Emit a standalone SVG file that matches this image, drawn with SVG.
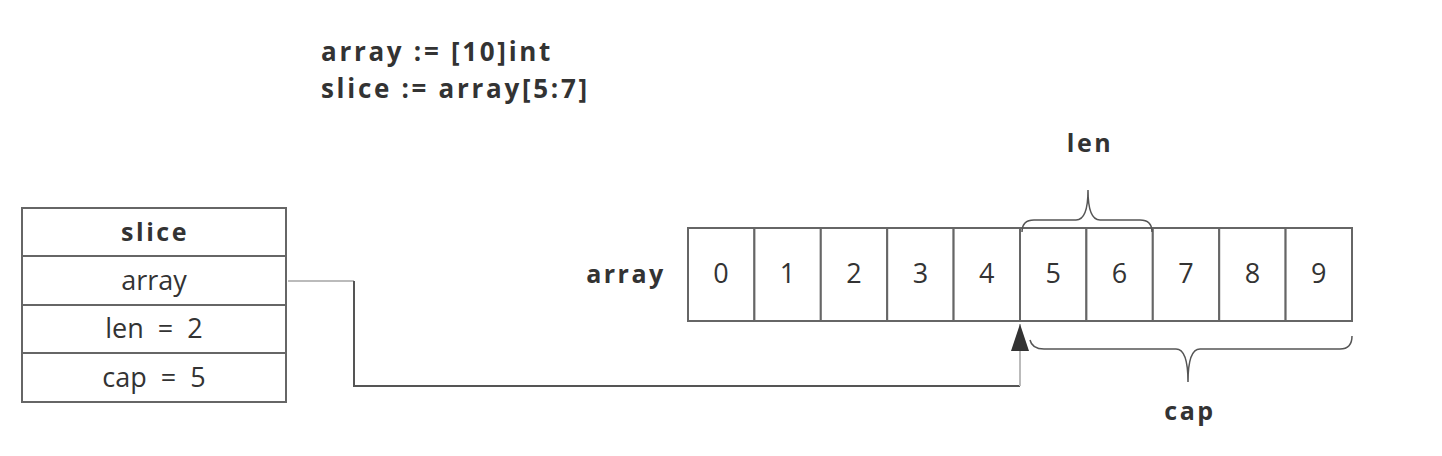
<svg xmlns="http://www.w3.org/2000/svg" width="1442" height="456" viewBox="0 0 1442 456">
<style>
.box{fill:#fff;stroke:#666;stroke-width:2}
.t{font-family:"Open Sans","Noto Sans",sans-serif;fill:#333;text-anchor:middle}
.b{font-weight:bold;letter-spacing:2.5px}
.c{font-weight:bold;letter-spacing:2.7px;font-size:26px;text-anchor:start}
.r{font-size:27px;word-spacing:7px}
.d{font-size:27px}
.br{fill:none;stroke:#555;stroke-width:1.5}
</style>
<defs>
<marker id="arr" markerWidth="28" markerHeight="18" refX="27" refY="9" orient="auto" markerUnits="userSpaceOnUse" viewBox="0 0 28 18">
<path d="M0,0 L27,9 L0,18 Z" fill="#333"/>
</marker>
</defs>
<rect width="1442" height="456" fill="#fff"/>
<g id="code">
<text x="321" y="61" class="t c">array := [10]int</text>
<text x="321" y="98" class="t c">slice := array[5:7]</text>
</g>
<g id="slice">
<rect x="22" y="208" width="264" height="48" class="box"/>
<rect x="22" y="256" width="264" height="49" class="box"/>
<rect x="22" y="305" width="264" height="48" class="box"/>
<rect x="22" y="353" width="264" height="49" class="box"/>
<text x="155" y="241" class="t b" font-size="25">slice</text>
<text x="154" y="290" class="t r">array</text>
<text x="154" y="338" class="t r">len = 2</text>
<text x="154" y="387" class="t r">cap = 5</text>
</g>
<g id="array">
<text x="626" y="283" class="t b" font-size="25">array</text>
<rect x="688" y="228" width="66.4" height="93" class="box"/>
<rect x="754.4" y="228" width="66.4" height="93" class="box"/>
<rect x="820.8" y="228" width="66.4" height="93" class="box"/>
<rect x="887.2" y="228" width="66.4" height="93" class="box"/>
<rect x="953.6" y="228" width="66.4" height="93" class="box"/>
<rect x="1020" y="228" width="66.4" height="93" class="box"/>
<rect x="1086.4" y="228" width="66.4" height="93" class="box"/>
<rect x="1152.8" y="228" width="66.4" height="93" class="box"/>
<rect x="1219.2" y="228" width="66.4" height="93" class="box"/>
<rect x="1285.6" y="228" width="66.4" height="93" class="box"/>
<text x="721" y="283" class="t d">0</text>
<text x="787.6" y="283" class="t d">1</text>
<text x="854" y="283" class="t d">2</text>
<text x="920.4" y="283" class="t d">3</text>
<text x="986.8" y="283" class="t d">4</text>
<text x="1053.2" y="283" class="t d">5</text>
<text x="1119.6" y="283" class="t d">6</text>
<text x="1186" y="283" class="t d">7</text>
<text x="1252.4" y="283" class="t d">8</text>
<text x="1318.8" y="283" class="t d">9</text>
</g>
<g id="len-brace">
<path d="M1022,232 Q1022,220 1034,220 L1076,220 Q1088,220 1088,190 Q1088,220 1100,220 L1140,220 Q1152,220 1152,232" class="br"/>
<text x="1090" y="152" class="t b" font-size="25">len</text>
</g>
<g id="cap-brace">
<path d="M1030,340 Q1032,349 1044,349 L1176,349 Q1188,349 1188,382 Q1188,349 1200,349 L1340,349 Q1352,349 1352,336" class="br"/>
<text x="1190" y="420" class="t b" font-size="25">cap</text>
</g>
<g id="connectors">
<path d="M288,281 L354,281" fill="none" stroke="#bbb" stroke-width="2"/>
<path d="M354,281 L354,386 L1020,386" fill="none" stroke="#555" stroke-width="2"/>
<path d="M1020,386 L1020,324" fill="none" stroke="#bbb" stroke-width="2" marker-end="url(#arr)"/>
</g>
</svg>
